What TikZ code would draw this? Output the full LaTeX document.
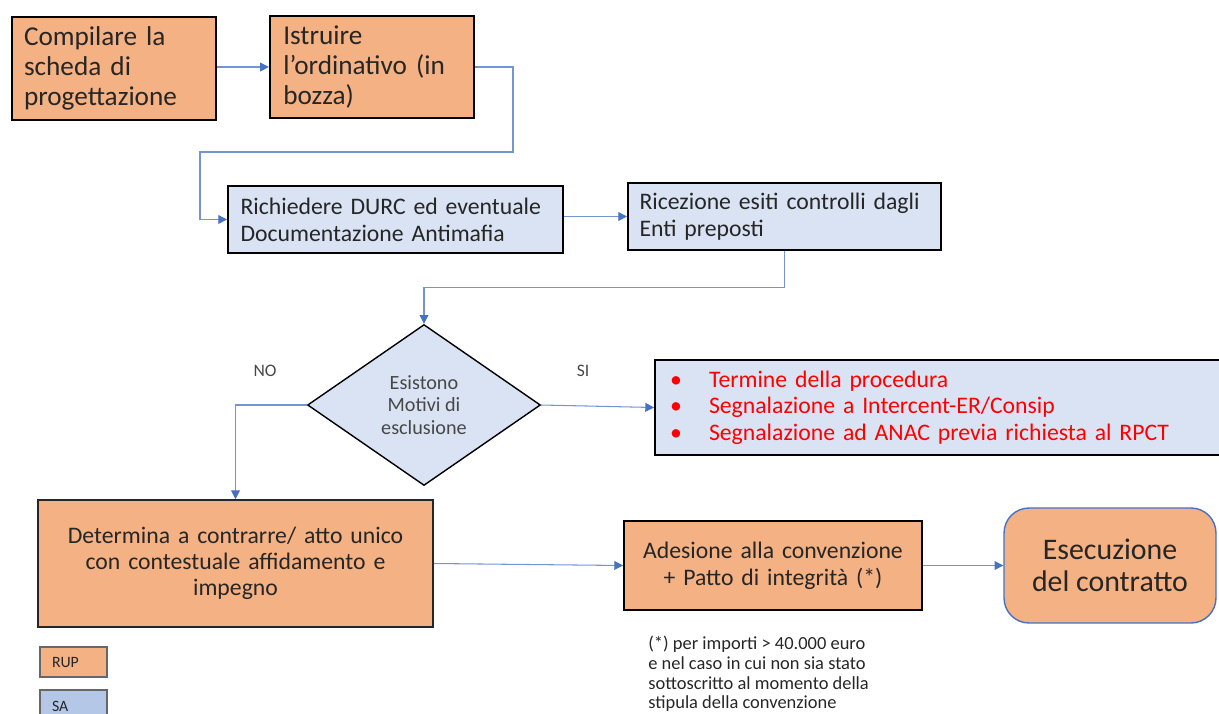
\documentclass[tikz,border=0pt]{standalone}
\usepackage{fontspec}
\setmainfont{Carlito}
\usetikzlibrary{shapes.geometric, arrows.meta}
\definecolor{rupor}{HTML}{F4B183}
\definecolor{saazz}{HTML}{DAE3F3}
\definecolor{saleg}{HTML}{B4C7E7}
\definecolor{blufreccia}{HTML}{4472C4}
\definecolor{testo}{HTML}{262626}
\newcommand{\punto}{\makebox[0.78cm][l]{\textbullet}}
\tikzset{
  rup/.style = {draw = black, fill = rupor, line width = 1.3pt, text = testo, inner ysep = 0pt},
  sa/.style = {draw = black, fill = saazz, line width = 1.1pt, text = testo, inner ysep = 0pt},
  freccia/.style = {draw = blufreccia!75, line width = 0.6pt, -{Triangle[length = 5pt, width = 5pt, color = blufreccia]}},
  legenda/.style = {draw = testo!70, line width = 0.6pt, minimum width = 1.34cm, text width = 0.86cm, inner xsep = 0.24cm, align = left, text = testo, font = \fontsize{9}{10}\selectfont},
}
\begin{document}
\begin{tikzpicture}[x = 0.02cm, y = -0.02cm]
\useasboundingbox (0, 0) rectangle (1219, 713);
\node[rup, minimum width = 4.08cm, minimum height = 2.06cm, text width = 3.6cm, inner xsep = 0.24cm, align = left, font = \fontsize{15.5}{17}\selectfont] (scheda) at (114, 68.5) {Compilare la\\ scheda di\\ progettazione\\[-4pt]};
\node[rup, minimum width = 4.08cm, minimum height = 2.04cm, text width = 3.55cm, inner xsep = 0.265cm, align = left, font = \fontsize{15.5}{17}\selectfont] (ordinativo) at (372, 67) {Istruire\\ l’ordinativo (in\\ bozza)};
\node[sa, minimum width = 6.7cm, minimum height = 1.34cm, text width = 6.2cm, inner xsep = 0.25cm, align = left, font = \fontsize{13.5}{15.5}\selectfont] (durc) at (395.5, 219.5) {Richiedere DURC ed eventuale\\ Documentazione Antimafia};
\node[sa, minimum width = 6.26cm, minimum height = 1.34cm, text width = 5.8cm, inner xsep = 0.23cm, align = left, font = \fontsize{13.5}{15.5}\selectfont] (esiti) at (784.5, 216.5) {Ricezione esiti controlli dagli\\ Enti preposti\\[4pt]};
\node[shape = diamond, draw = black, line width = 0.8pt, fill = saazz, minimum width = 4.66cm, minimum height = 3.22cm, inner sep = 0pt, align = center, text = testo!85, font = \fontsize{11.5}{13}\selectfont] (motivi) at (424, 405) {Esistono\\ Motivi di\\ esclusione};
\node[text = testo!85, font = \fontsize{10}{12}\selectfont] (no) at (265, 371) {NO};
\node[text = testo!85, font = \fontsize{10}{12}\selectfont] (si) at (583, 371) {SI};
\node[sa, minimum width = 11.5cm, minimum height = 1.9cm, text width = 10.9cm, inner xsep = 0.3cm, align = left, text = red, font = \fontsize{13.5}{15}\selectfont] (esito) at (942.5, 407.5) {\punto Termine della procedura\\ \punto Segnalazione a Intercent-ER/Consip\\ \punto Segnalazione ad ANAC previa richiesta al RPCT};
\node[rup, draw = testo, line width = 0.9pt, minimum width = 7.9cm, minimum height = 2.54cm, text width = 7.3cm, inner xsep = 0.3cm, align = center, font = \fontsize{13.5}{14.8}\selectfont] (determina) at (235.5, 563.5) {Determina a contrarre/ atto unico\\ con contestuale affidamento e\\ impegno\\[-5pt]};
\node[rup, line width = 1.1pt, minimum width = 5.96cm, minimum height = 1.78cm, text width = 5.5cm, inner xsep = 0.23cm, align = center, font = \fontsize{13.5}{15.5}\selectfont] (adesione) at (773, 565.5) {Adesione alla convenzione\\ + Patto di integrità (*)};
\node[draw = blufreccia, fill = rupor, rounded corners = 0.5cm, line width = 0.8pt, minimum width = 4.24cm, minimum height = 2.3cm, align = center, text = testo, font = \fontsize{17}{18.5}\selectfont] (esecuzione) at (1110, 565.5) {Esecuzione\\ del contratto};
\node[legenda, fill = rupor, minimum height = 0.6cm] (legrup) at (73.5, 662) {RUP};
\node[legenda, fill = saleg, minimum height = 0.64cm] (legsa) at (73.5, 706) {SA};
\node[anchor = north west, inner sep = 0pt, align = left, text = testo, font = \fontsize{10.5}{11.2}\selectfont] (nota) at (648, 636) {(*) per importi > 40.000 euro\\ e nel caso in cui non sia stato\\ sottoscritto al momento della\\ stipula della convenzione};
\draw[freccia] (scheda.east |- ordinativo.west) -- (ordinativo.west);
\draw[freccia] (ordinativo.east) -| (513, 152) -| (200, 219.5) -- (durc.west);
\draw[freccia] (esiti.west -| durc.east) -- (esiti.west);
\draw[freccia] (esiti.south) -- ++(0, 37) -| (motivi.north);
\draw[freccia] (motivi.east) -- (esito.west);
\draw[freccia] (motivi.west) -| (determina.north);
\draw[freccia] (determina.east) -- (adesione.west);
\draw[freccia] (adesione.east) -- (esecuzione.west);
\end{tikzpicture}
\end{document}
